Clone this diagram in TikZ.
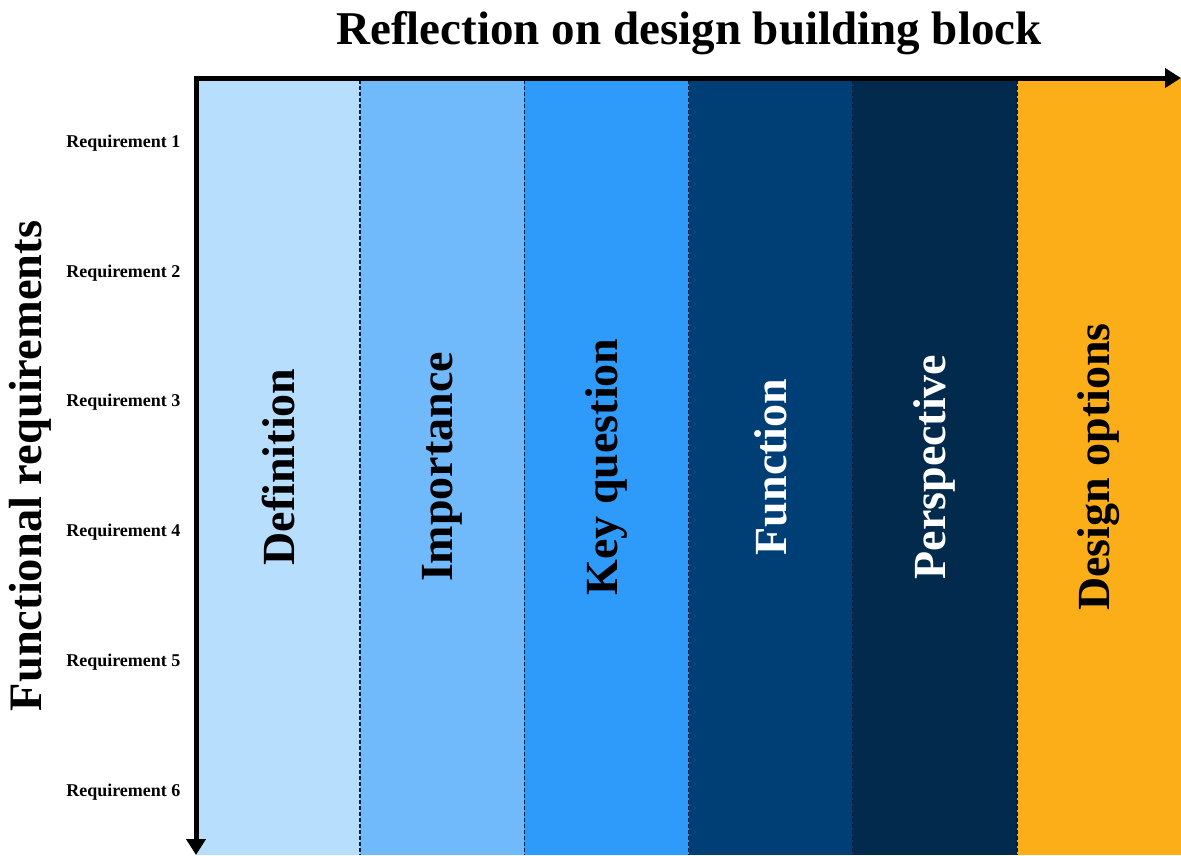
\documentclass[tikz,border=0pt]{standalone}
\usepackage{fontspec}
\setmainfont{Liberation Serif}
\usetikzlibrary{arrows.meta}

\definecolor{colDef}{RGB}{184,222,253}
\definecolor{colImp}{RGB}{112,186,252}
\definecolor{colKey}{RGB}{46,155,251}
\definecolor{colFun}{RGB}{0,62,118}
\definecolor{colPer}{RGB}{1,42,77}
\definecolor{colDes}{RGB}{251,174,24}
\definecolor{sepline}{RGB}{5,30,60}

\begin{document}
\begin{tikzpicture}[x=1pt,y=-1pt,
        axis/.style={line width=5pt, -{Triangle[length=16pt,width=19pt]}},
        sep/.style={dashed, dash pattern=on 4pt off 2pt, line width=1.4pt, sepline},
        colname/.style={rotate=90, font=\bfseries\fontsize{46}{50}\selectfont},
        reqname/.style={anchor=east, font=\bfseries\fontsize{18}{20}\selectfont}]
    \useasboundingbox (0,0) rectangle (1181,855);
    % columns of the building block
    \foreach \i/\name/\fillc/\textc in {1/Definition/colDef/black, 2/Importance/colImp/black,
            3/Key question/colKey/black, 4/Function/colFun/white,
            5/Perspective/colPer/white, 6/Design options/colDes/black} {
        \fill [\fillc] ({196+164.17*(\i-1)},78) rectangle ({196+164.17*\i},855);
        \node [colname, text=\textc] (col\i) at ({196+164.17*(\i-0.5)},467) {\name};
    }
    \foreach \i in {1,...,5}
        \draw [sep] ({196+164.17*\i},80) -- ({196+164.17*\i},855);
    % requirements
    \foreach \r in {1,...,6}
        \node [reqname] (req\r) at (184,{143+129.8*(\r-1)}) {Requirement \r};
    % axes
    \coordinate (origin) at (196,78);
    \coordinate (xend) at (1181,78);
    \coordinate (yend) at (196,855);
    \draw [axis] ([xshift=-2.5pt]origin) -- (xend);
    \draw [axis] ([yshift=2.5pt]origin) -- (yend);
    \node [font=\bfseries\fontsize{47}{50}\selectfont] (title) at (689,33) {Reflection on design building block};
    \node [rotate=90, font=\bfseries\fontsize{46.5}{50}\selectfont] (ylabel) at (30,466) {Functional requirements};
\end{tikzpicture}
\end{document}
